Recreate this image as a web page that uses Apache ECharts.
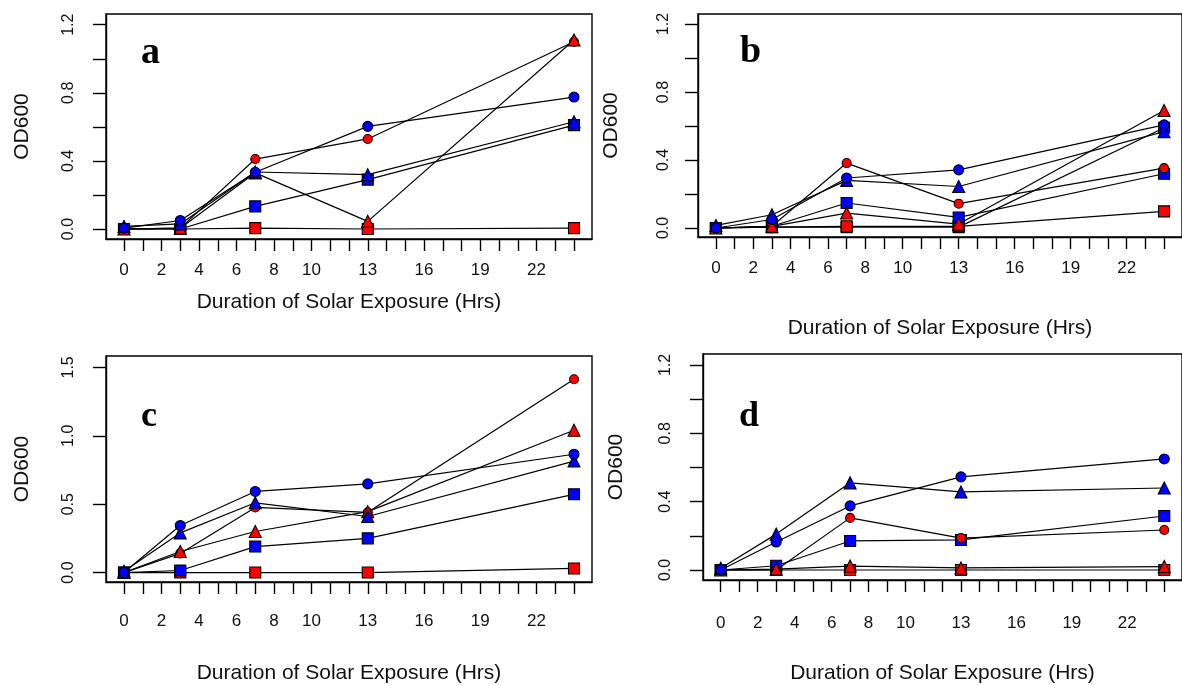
<!DOCTYPE html>
<html><head><meta charset="utf-8">
<script src="https://cdn.jsdelivr.net/npm/echarts@6/dist/echarts.min.js"></script>
<style>html,body{margin:0;padding:0;background:#fff}#chart{width:1182px;height:685px}</style>
</head><body><div id="chart"></div>
<script>
// ---------- data ----------
const hours = [0, 3, 7, 13, 24];
const xTickValues = [0,1,2,3,4,5,6,7,8,9,10,11,12,13,14,15,16,17,18,19,20,21,22,23,24];
const xLabelValues = [0, 2, 4, 6, 8, 10, 13, 16, 19, 22];
const yTicks12 = [0, 0.2, 0.4, 0.6, 0.8, 1.0, 1.2];
const yLabels12 = [0, 0.4, 0.8, 1.2];
const yTicks15 = [0, 0.5, 1.0, 1.5];
const panelLetters = ['a', 'b', 'c', 'd'];
const xTitle = 'Duration of Solar Exposure (Hrs)';
const yTitle = 'OD600';

// panel a
const aRedSquare    = [0, 0, 0.005, 0.0, 0.005];
const aBlueSquare   = [0, 0, 0.133, 0.29, 0.61];
const aRedCircle    = [0, 0.005, 0.411, 0.529, 1.10];
const aRedTriangle  = [0, 0.005, 0.33, 0.045, 1.11];
const aBlueTriangle = [0.015, 0.03, 0.335, 0.319, 0.63];
const aBlueCircle   = [0.005, 0.05, 0.333, 0.603, 0.775];
// panel b
const bBlueSquare2  = [0, 0.005, 0.005, 0.005, 0.59];
const bRedSquare    = [0, 0.005, 0.01, 0.01, 0.098];
const bBlueSquare   = [0, 0.01, 0.147, 0.062, 0.319];
const bRedCircle    = [0, 0.01, 0.382, 0.143, 0.352];
const bRedTriangle  = [0, 0.01, 0.088, 0.023, 0.691];
const bBlueTriangle = [0.015, 0.078, 0.28, 0.244, 0.567];
const bBlueCircle   = [0, 0.05, 0.294, 0.342, 0.607];
// panel c
const cRedSquare    = [0, 0, 0, 0, 0.03];
const cBlueSquare   = [0, 0.015, 0.19, 0.25, 0.572];
const cRedCircle    = [0, 0.14, 0.476, 0.44, 1.413];
const cRedTriangle  = [0, 0.154, 0.30, 0.445, 1.04];
const cBlueTriangle = [0.01, 0.29, 0.51, 0.41, 0.815];
const cBlueCircle   = [0, 0.344, 0.593, 0.648, 0.865];
// panel d
const dRedSquare    = [0, 0, 0, 0, 0];
const dBlueSquare   = [0, 0.025, 0.17, 0.176, 0.316];
const dRedCircle    = [0, 0, 0.305, 0.187, 0.234];
const dRedTriangle  = [0, 0.005, 0.023, 0.012, 0.02];
const dBlueTriangle = [0.01, 0.21, 0.51, 0.457, 0.48];
const dBlueCircle   = [0, 0.164, 0.375, 0.545, 0.65];

// ---------- styling / layout ----------
const RED = '#ff0000', BLUE = '#0000ff';
const panels = [
  { grid: {left: 106, top: 14, width: 486, height: 225}, ymin: -0.0587, ymax: 1.263, yTicks: yTicks12, yLabels: yLabels12,
    xLabMargin: 23, xNameGap: 53, yLabMargin: 29, yNameGap: 73,
    letter: {x: 141, y: 34, size: 38},
    series: [[aRedSquare,'rect',RED],[aBlueSquare,'rect',BLUE],[aRedCircle,'circle',RED],[aRedTriangle,'triangle',RED],[aBlueTriangle,'triangle',BLUE],[aBlueCircle,'circle',BLUE]] },
  { grid: {left: 698, top: 14, width: 487, height: 223}, ymin: -0.053, ymax: 1.259, yTicks: yTicks12, yLabels: yLabels12,
    xLabMargin: 23, xNameGap: 81, yLabMargin: 26, yNameGap: 76,
    letter: {x: 740, y: 33, size: 38},
    series: [[bBlueSquare2,'rect',BLUE],[bRedSquare,'rect',RED],[bBlueSquare,'rect',BLUE],[bRedCircle,'circle',RED],[bRedTriangle,'triangle',RED],[bBlueTriangle,'triangle',BLUE],[bBlueCircle,'circle',BLUE]] },
  { grid: {left: 106, top: 356, width: 486, height: 226}, ymin: -0.069, ymax: 1.583, yTicks: yTicks15, yLabels: yTicks15,
    xLabMargin: 31, xNameGap: 81, yLabMargin: 29, yNameGap: 73,
    letter: {x: 141, y: 399, size: 36},
    series: [[cRedSquare,'rect',RED],[cBlueSquare,'rect',BLUE],[cRedCircle,'circle',RED],[cRedTriangle,'triangle',RED],[cBlueTriangle,'triangle',BLUE],[cBlueCircle,'circle',BLUE]] },
  { grid: {left: 703, top: 354, width: 487, height: 226}, ymin: -0.0585, ymax: 1.264, yTicks: yTicks12, yLabels: yLabels12,
    xLabMargin: 35, xNameGap: 83, yLabMargin: 29, yNameGap: 76,
    letter: {x: 739, y: 399, size: 36},
    series: [[dRedSquare,'rect',RED],[dBlueSquare,'rect',BLUE],[dRedCircle,'circle',RED],[dRedTriangle,'triangle',RED],[dBlueTriangle,'triangle',BLUE],[dBlueCircle,'circle',BLUE]] }
];

const FONT = 'Liberation Sans';
const grids = [], xAxes = [], yAxes = [], series = [], graphics = [];
panels.forEach((p, i) => {
  grids.push(Object.assign({show: true, borderColor: '#000', borderWidth: 1.4, backgroundColor: 'transparent'}, p.grid));
  xAxes.push({
    gridIndex: i, type: 'value', min: -0.96, max: 24.96,
    axisLine: {show: true, onZero: false, lineStyle: {color: '#000', width: 1.4}},
    axisTick: {show: true, customValues: xTickValues, length: 12, lineStyle: {color: '#000', width: 1.4}},
    axisLabel: {customValues: xLabelValues, margin: p.xLabMargin, fontSize: 17, color: '#111', fontFamily: FONT},
    splitLine: {show: false},
    name: xTitle, nameLocation: 'middle', nameGap: p.xNameGap,
    nameTextStyle: {fontSize: 21, color: '#111', fontFamily: FONT}
  });
  yAxes.push({
    gridIndex: i, type: 'value', min: p.ymin, max: p.ymax,
    axisLine: {show: true, onZero: false, lineStyle: {color: '#000', width: 1.4}},
    axisTick: {show: true, customValues: p.yTicks, length: 13, lineStyle: {color: '#000', width: 1.4}},
    axisLabel: {customValues: p.yLabels, rotate: 90, margin: p.yLabMargin, fontSize: 16, color: '#111', fontFamily: FONT,
      formatter: v => Number(v).toFixed(1)},
    splitLine: {show: false},
    name: yTitle, nameLocation: 'middle', nameGap: p.yNameGap, nameRotate: 90,
    nameTextStyle: {fontSize: 21, color: '#111', fontFamily: FONT}
  });
  p.series.forEach(([vals, sym, col], k) => {
    const size = sym === 'circle' ? (col === RED ? 9 : 10) : (sym === 'rect' ? 11 : 12);
    series.push({
      type: 'line', xAxisIndex: i, yAxisIndex: i, z: 2 + k,
      data: hours.map((h, j) => [h, vals[j]]),
      symbol: sym, symbolSize: size, showSymbol: true, showAllSymbol: true,
      lineStyle: {color: '#000', width: 1.2},
      itemStyle: {color: col, borderColor: '#000', borderWidth: 1.1},
      emphasis: {disabled: true}, silent: true
    });
  });
  graphics.push({type: 'text', left: p.letter.x, top: p.letter.y,
    style: {text: panelLetters[i], font: 'bold ' + p.letter.size + 'px "Liberation Serif"', fill: '#000'}});
});

const chart = echarts.init(document.getElementById('chart'), null, {renderer: 'canvas'});
chart.setOption({
  animation: false,
  backgroundColor: '#fff',
  grid: grids, xAxis: xAxes, yAxis: yAxes, series: series, graphic: graphics
});
</script>
</body></html>
